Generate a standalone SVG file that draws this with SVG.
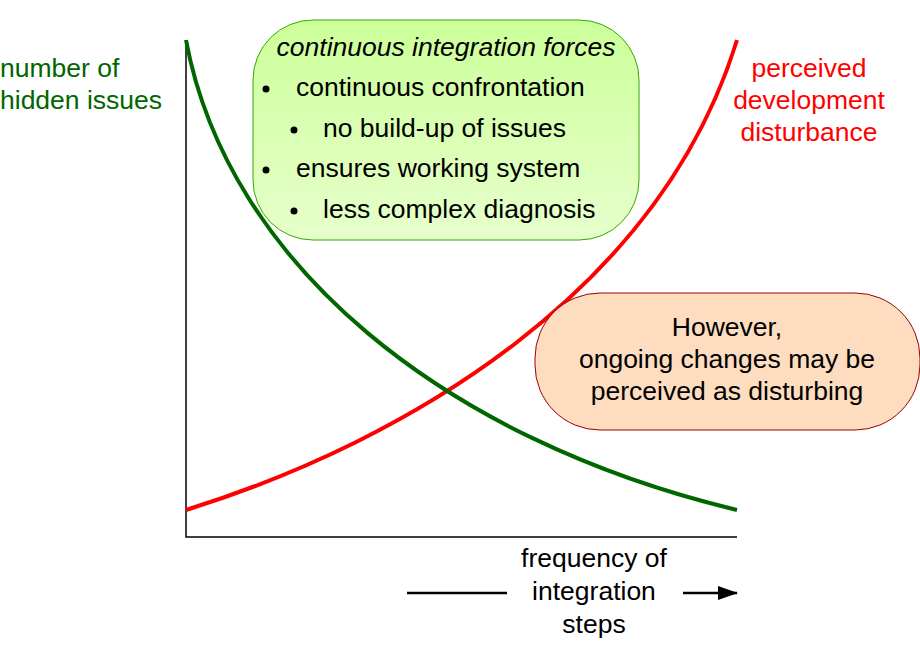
<svg xmlns="http://www.w3.org/2000/svg" width="920" height="660" viewBox="0 0 920 660">
<style>
text{font-family:"Liberation Sans",Arial,sans-serif;font-size:26.5px;fill:#000}
.g{fill:#006600}.r{fill:#ff0000}
</style>
<defs>
<marker id="ah" markerWidth="20" markerHeight="14" refX="19" refY="7" orient="auto" markerUnits="userSpaceOnUse"><path d="M0,0 L20,7 L0,14 Z" fill="#000"/></marker>
<linearGradient id="gg" x1="0" y1="0" x2="0" y2="1"><stop offset="0" stop-color="#ccff99"/><stop offset="1" stop-color="#e6ffcc"/></linearGradient>
</defs>
<g id="axes" stroke="#000" stroke-width="1.5" fill="none">
<path d="M186,40 V537 H737"/>
</g>
<g id="connectors">
<path d="M186,510 C410,440 660,290 737,40" stroke="#ff0000" stroke-width="4" fill="none"/>
<path d="M407,593 H507" stroke="#000" stroke-width="2.5"/>
<path d="M683,593 H737" stroke="#000" stroke-width="2.5" marker-end="url(#ah)"/>
</g>
<g id="box1">
<rect x="253" y="20" width="386" height="220" rx="60" fill="url(#gg)" stroke="#33aa00" stroke-width="1"/>
<text x="446" y="56" text-anchor="middle" font-style="italic">continuous integration forces</text>
<circle cx="266" cy="89" r="3.5"/><text x="296" y="96">continuous confrontation</text>
<circle cx="294" cy="130" r="3.5"/><text x="323" y="137">no build-up of issues</text>
<circle cx="266" cy="170" r="3.5"/><text x="296" y="177">ensures working system</text>
<circle cx="294" cy="211" r="3.5"/><text x="323" y="218">less complex diagnosis</text>
</g>
<g id="green-curve"><path d="M186,40 C228,265 445,440 737,510" stroke="#006600" stroke-width="4" fill="none"/></g>
<g id="box2">
<rect x="535" y="293" width="385" height="137" rx="65" fill="#fddcc0" stroke="#990000" stroke-width="1"/>
<text x="727" y="336" text-anchor="middle">However,</text>
<text x="727" y="368" text-anchor="middle">ongoing changes may be</text>
<text x="727" y="400" text-anchor="middle">perceived as disturbing</text>
</g>
<g id="labels">
<text class="g" x="0" y="77">number of</text>
<text class="g" x="0" y="109">hidden issues</text>
<text class="r" x="809" y="77" text-anchor="middle">perceived</text>
<text class="r" x="809" y="109" text-anchor="middle">development</text>
<text class="r" x="809" y="141" text-anchor="middle">disturbance</text>
<text x="594" y="567" text-anchor="middle">frequency of</text>
<text x="594" y="600" text-anchor="middle">integration</text>
<text x="594" y="633" text-anchor="middle">steps</text>
</g>
</svg>
